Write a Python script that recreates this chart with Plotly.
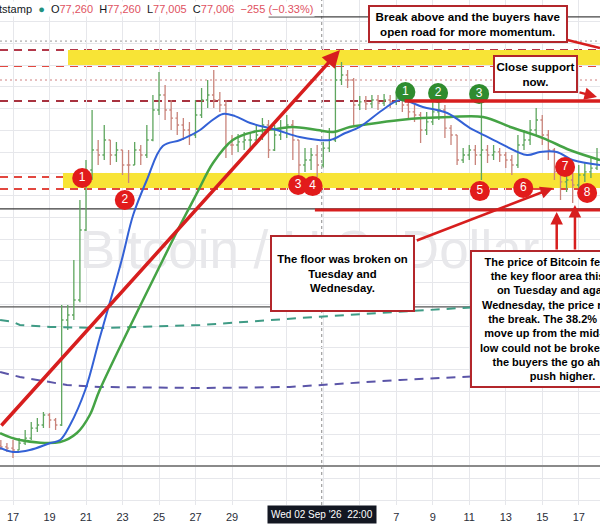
import plotly.graph_objects as go
import pandas as pd

# ---------------- data ----------------
candle_start = "2026-08-16 08:00"   # 8-hour candles
first_open = 65500
close = [65440, 65390, 65300, 65620, 65850, 66310, 66450, 66910, 66680, 66450,
         71280, 71510, 72200, 75420, 78180, 79100, 78870, 79560, 78870, 79100,
         78410, 78410, 79100, 78870, 79560, 80940, 81630, 80940, 80570, 80250,
         80020, 79790, 80710, 81400, 81630, 81400, 81170, 79330, 79330, 79470,
         79560, 79560, 79790, 80250, 79100, 79790, 80110, 80250, 79560, 78410,
         78640, 78870, 78410, 79190, 79560, 82320, 82550, 82320, 81170, 81310,
         81220, 81400, 81260, 81400, 81310, 81490, 81170, 80850, 80710, 80020,
         80390, 80850, 80940, 80110, 79790, 78640, 78870, 79100, 78870, 79100,
         78870, 79010, 78870, 78640, 78410, 79330, 79560, 80020, 80480, 79790,
         79100, 78090, 77630, 77720, 77490, 77950, 78090, 78270, 78640]
high = [65760, 65620, 65760, 65850, 66220, 66590, 66770, 67050, 67000, 66770,
        71970, 71970, 74040, 76800, 78640, 80940, 79560, 80250, 79560, 79470,
        79100, 79100, 79470, 79330, 80250, 81630, 82690, 82090, 81400, 80850,
        80570, 80390, 81400, 81950, 82320, 82780, 81770, 81400, 79790, 79840,
        79930, 79930, 80250, 80570, 80480, 80250, 80480, 80710, 80480, 79560,
        79190, 79190, 79330, 79470, 80110, 83470, 83150, 82780, 82410, 81580,
        81580, 81630, 81630, 81680, 81630, 81770, 81630, 81310, 81170, 80850,
        80850, 81310, 81490, 81170, 80250, 79790, 79190, 79330, 79330, 81400,
        79330, 79330, 79190, 79010, 78870, 79790, 80020, 80480, 81030, 80710,
        80020, 79190, 78180, 78180, 78090, 78410, 78550, 78730, 79190]
low = [65300, 65210, 64930, 65300, 65530, 65760, 66130, 66310, 66310, 66220,
       66400, 70820, 71280, 72100, 74960, 77720, 78410, 78640, 78410, 78550,
       77950, 77580, 78410, 78410, 78730, 79500, 80710, 80480, 80020, 79790,
       79560, 79330, 79650, 80570, 81030, 81030, 80850, 78730, 78870, 79010,
       79100, 79190, 79330, 79560, 78730, 79050, 79560, 79650, 78640, 77810,
       78090, 78180, 77860, 78300, 79010, 79470, 82090, 81950, 80250, 80940,
       80940, 81030, 80940, 81120, 81030, 81170, 80850, 80480, 80390, 79420,
       79790, 80250, 80480, 79650, 79330, 78410, 78500, 78640, 78410, 77720,
       78500, 78640, 78550, 78270, 77950, 78270, 79100, 79330, 79790, 79330,
       78640, 77720, 76800, 77170, 76660, 77260, 77630, 77810, 78180]

blue_t = ['2026-08-16 07:00', '2026-08-17 00:00', '2026-08-17 22:00', '2026-08-19 01:00', '2026-08-19 14:00',
          '2026-08-20 03:00', '2026-08-20 23:00', '2026-08-21 18:00', '2026-08-22 23:00', '2026-08-23 14:00',
          '2026-08-24 08:00', '2026-08-25 05:00', '2026-08-26 04:00', '2026-08-27 06:00', '2026-08-27 19:00',
          '2026-08-28 12:00', '2026-08-29 04:00', '2026-08-30 00:00', '2026-08-31 11:00', '2026-09-01 17:00',
          '2026-09-03 09:00', '2026-09-04 05:00', '2026-09-05 00:00', '2026-09-06 06:00', '2026-09-07 05:00',
          '2026-09-08 11:00', '2026-09-09 19:00', '2026-09-11 01:00', '2026-09-11 14:00', '2026-09-12 16:00',
          '2026-09-14 04:00', '2026-09-14 21:00', '2026-09-15 19:00', '2026-09-16 16:00', '2026-09-18 04:00']
blue_v = [65390, 65210, 65300, 65620, 65760, 66450, 68060, 70450, 74040, 76110,
          77720, 79280, 79560, 80020, 80390, 80760, 80660, 80340, 80020, 79700,
          79560, 79880, 80160, 80940, 81400, 81080, 80800, 80110, 79880, 79420,
          78870, 79010, 79010, 78640, 78410]

green_t = ['2026-08-16 07:00', '2026-08-17 09:00', '2026-08-19 14:00', '2026-08-20 12:00', '2026-08-21 05:00',
           '2026-08-21 18:00', '2026-08-25 05:00', '2026-08-26 04:00', '2026-08-27 02:00', '2026-08-27 23:00',
           '2026-08-29 01:00', '2026-08-30 04:00', '2026-08-31 11:00', '2026-09-01 08:00', '2026-09-02 16:00',
           '2026-09-03 13:00', '2026-09-04 11:00', '2026-09-05 13:00', '2026-09-07 05:00', '2026-09-08 11:00',
           '2026-09-09 23:00', '2026-09-11 18:00', '2026-09-13 06:00', '2026-09-15 01:00', '2026-09-16 12:00',
           '2026-09-18 04:00']
green_v = [66080, 65760, 65670, 66080, 66910, 68060, 74040, 75650, 77120, 78500,
           79560, 79930, 80070, 80160, 80020, 79930, 80160, 80300, 80480, 80570,
           80620, 80620, 80160, 79650, 79100, 78640]

teal_t = ['2026-08-16 07:00', '2026-08-17 00:00', '2026-08-17 09:00', '2026-08-19 01:00', '2026-08-21 18:00',
          '2026-08-27 06:00', '2026-09-01 17:00', '2026-09-07 05:00', '2026-09-10 12:00', '2026-09-18 04:00']
teal_v = [71280, 71190, 71050, 70960, 70910, 71050, 71370, 71650, 71830, 72110]

purple_t = ['2026-08-16 07:00', '2026-08-17 09:00', '2026-08-19 23:00', '2026-08-21 18:00', '2026-08-27 06:00',
            '2026-09-01 04:00', '2026-09-07 05:00', '2026-09-10 12:00', '2026-09-18 04:00']
purple_v = [68890, 68660, 68290, 68200, 68150, 68200, 68520, 68660, 68890]

tick_vals = ['2026-08-17', '2026-08-19', '2026-08-21', '2026-08-23', '2026-08-25', '2026-08-27',
             '2026-08-29', '2026-09-01', '2026-09-03', '2026-09-05', '2026-09-07', '2026-09-09',
             '2026-09-11', '2026-09-13', '2026-09-15', '2026-09-17']
# labels under the crosshair tag are hidden in the reference
tick_text = ['17', '19', '21', '23', '25', '27', '29', '', '', '', '7', '9', '11', '13', '15', '17']

# levels
resist_zone = [83010, 83700]
floor_zone = [77350, 78040]
red_marks = [('1', '2026-08-20 19:00', 77810), ('2', '2026-08-23 03:00', 76800),
             ('3', '2026-09-01 15:00', 77490), ('4', '2026-09-02 10:00', 77440),
             ('5', '2026-09-11 14:00', 77210), ('6', '2026-09-13 23:00', 77350),
             ('7', '2026-09-16 06:00', 78320), ('8', '2026-09-17 11:00', 77120)]
green_marks = [('1', '2026-09-07 12:00', 81770), ('2', '2026-09-09 07:00', 81720),
               ('3', '2026-09-11 13:00', 81680)]

X0, X1 = '2026-08-16 06:54', '2026-09-18 03:56'
RED = '#d71e1e'
FONT = 'Liberation Sans, Arial, sans-serif'

times = pd.date_range(candle_start, periods=len(close), freq='8h')
opens = [first_open] + close[:-1]

fig = go.Figure()
fig.add_trace(go.Scatter(x=['2026-09-02 06:00'], y=[74270], mode='text',
                         text=['Bitcoin / U.S. Dollar'],
                         textfont=dict(size=53, color='#e8e8eb', family=FONT),
                         hoverinfo='skip'))
fig.add_trace(go.Scatter(x=teal_t, y=teal_v, mode='lines',
                         line=dict(color='#3f9b85', width=2, dash='9px,7px')))
fig.add_trace(go.Scatter(x=purple_t, y=purple_v, mode='lines',
                         line=dict(color='#5b55a8', width=2, dash='9px,7px')))
fig.add_trace(go.Ohlc(x=times, open=opens, high=high, low=low, close=close,
                      increasing=dict(line=dict(color='#5fa65f', width=1.3)),
                      decreasing=dict(line=dict(color='#c9847b', width=1.3)),
                      tickwidth=0.3))
fig.add_trace(go.Scatter(x=green_t, y=green_v, mode='lines', line=dict(color='#45a345', width=2.5, shape='spline')))
fig.add_trace(go.Scatter(x=blue_t, y=blue_v, mode='lines', line=dict(color='#3361d6', width=2, shape='spline')))

for marks, col in ((red_marks, '#e21b1b'), (green_marks, '#2f8c2f')):
    fig.add_trace(go.Scatter(x=[m[1] for m in marks], y=[m[2] for m in marks],
                             mode='markers+text', text=[m[0] for m in marks],
                             textposition='middle center',
                             textfont=dict(color='white', size=12, family=FONT),
                             marker=dict(size=20, color=col, line=dict(color=col, width=0)),
                             cliponaxis=False))

shapes = []
# yellow zones
shapes.append(dict(type='rect', xref='x', yref='y', x0='2026-08-20 00:20', x1=X1,
                   y0=resist_zone[0], y1=resist_zone[1], fillcolor='#f8e436', line=dict(width=0), layer='between'))
shapes.append(dict(type='rect', xref='x', yref='y', x0='2026-08-19 17:45', x1=X1,
                   y0=floor_zone[0], y1=floor_zone[1], fillcolor='#f8e436', line=dict(width=0), layer='between'))
# dashed / dotted levels
for yv, col, dash in ((83700, '#b2384a', '8px,6px'), (82960, '#e2473f', '8px,6px'),
                      (81350, '#a8323f', '8px,6px'), (77860, '#e2473f', '8px,6px'),
                      (77310, '#e2473f', '8px,6px'), (84110, '#9a9a9a', '2px,3px'),
                      (82320, '#d08080', '2px,3px'), (78020, '#9a9a9a', '2px,3px')):
    shapes.append(dict(type='line', xref='paper', yref='y', x0=0, x1=1, y0=yv, y1=yv,
                       line=dict(color=col, width=2 if dash.startswith('8') else 1, dash=dash), layer='between'))
# black horizontal lines
for yv, col, w, xs in ((76390, '#3a3a3a', 1.3, X0), (71880, '#555555', 1.3, X0),
                       (64560, '#8a8a8a', 2, X0), (85220, '#444444', 1.2, '2026-08-31 00:00')):
    shapes.append(dict(type='line', xref='x', yref='y', x0=xs, x1=X1, y0=yv, y1=yv,
                       line=dict(color=col, width=w), layer='between'))
# crosshair
shapes.append(dict(type='line', xref='x', yref='paper', x0='2026-09-02 22:00', x1='2026-09-02 22:00',
                   y0=0, y1=1, line=dict(color='#8a8a8a', width=1, dash='3px,3px'), layer='between'))
# thick red lines
shapes.append(dict(type='line', xref='x', yref='y', x0='2026-09-07 11:00', x1=X1, y0=81350, y1=81350,
                   line=dict(color=RED, width=3.5), layer='above'))
shapes.append(dict(type='line', xref='x', yref='y', x0='2026-09-02 13:00', x1=X1, y0=76340, y1=76340,
                   line=dict(color=RED, width=3), layer='above'))
shapes.append(dict(type='line', xref='x', yref='y', x0='2026-09-16 09:00', x1=X1, y0=84160, y1=83790,
                   line=dict(color=RED, width=2.5), layer='above'))


def arrow(x, y, ax, ay, width=2.5):
    return dict(x=x, y=y, ax=ax, ay=ay, xref='x', yref='y', axref='x', ayref='y', text='',
                showarrow=True, arrowhead=2, arrowsize=1, arrowwidth=width, arrowcolor=RED)


ann = [
    arrow('2026-09-03 22:00', 83700, X0, 66360, 3.5),
    arrow('2026-09-15 14:00', 77350, '2026-09-08 01:00', 74910),
    arrow('2026-09-15 19:00', 76250, '2026-09-15 19:00', 74450),
    arrow('2026-09-16 19:00', 76570, '2026-09-16 19:00', 74450),
    arrow('2026-09-18 00:00', 81540, '2026-09-16 23:00', 81770),
]


def box(text, x, y, w, h, size):
    return dict(text=text, x=x, y=y, xref='paper', yref='paper', xanchor='center', yanchor='middle',
                showarrow=False, width=w, height=h, align='center', bgcolor='white',
                bordercolor='#b3262b', borderwidth=2, borderpad=0,
                font=dict(family=FONT, size=size, color='black'))


ann += [
    box('<b>Break above and the buyers have<br>open road for more momentum.</b>', 0.78, 0.9525, 196, 34, 11.6),
    box('<b>Close support<br>now.</b>', 0.8925, 0.8535, 81, 34, 11.6),
    box('<b>The floor was broken on<br>Tuesday and<br>Wednesday.</b>', 0.5708, 0.4584, 141, 73, 11.3),
    box('<b>The price of Bitcoin fell below<br>the key floor area this week<br>on Tuesday and again on<br>'
        'Wednesday, the price reversed<br>the break. The 38.2% retrace<br>move up from the mid-August<br>'
        'low could not be broken, giving<br>the buyers the go ahead to<br>push higher.</b>',
        0.9367, 0.3683, 181, 134, 11),
]
# header legend
v = '#e0525f'
header = ('tstamp&nbsp;&nbsp;<span style="color:#22917f">●</span>&nbsp;&nbsp;O<span style="color:%s">77,260</span>'
          '&nbsp;&nbsp;H<span style="color:%s">77,260</span>&nbsp;&nbsp;L<span style="color:%s">77,005</span>'
          '&nbsp;&nbsp;C<span style="color:%s">77,006</span>&nbsp;&nbsp;<span style="color:%s">−255 (−0.33%%)</span>'
          % (v, v, v, v, v))
ann.append(dict(text=header, x=-0.005, y=0.982, xref='paper', yref='paper', xanchor='left', yanchor='middle',
                showarrow=False, bgcolor='white', font=dict(family=FONT, size=11, color='#131722')))
ann.append(dict(text="Wed 02 Sep '26&nbsp;&nbsp;22:00", x='2026-09-02 22:00', y=0, xref='x', yref='paper',
                xanchor='center', yanchor='top', showarrow=False, bgcolor='#131722', borderpad=3,
                font=dict(family=FONT, size=10, color='white')))

fig.update_layout(
    width=600, height=528, margin=dict(l=0, r=0, t=0, b=23),
    showlegend=False, plot_bgcolor='white', paper_bgcolor='white', hovermode=False,
    shapes=shapes, annotations=ann,
    xaxis=dict(type='date', range=[X0, X1], tickvals=tick_vals, ticktext=tick_text,
               showgrid=True, gridcolor='#e6e7eb', zeroline=False, showline=False,
               ticks='outside', ticklen=2, tickcolor='rgba(0,0,0,0)',
               tickfont=dict(family=FONT, size=11, color='#2a2e39'), rangeslider=dict(visible=False)),
    yaxis=dict(range=[62770, 86000], dtick=1000, tick0=0, showticklabels=False, showgrid=True,
               gridcolor='#e6e7eb', zeroline=False, showline=False),
)
fig.write_html('out.html', config={'displayModeBar': False},
               post_script="document.body.style.margin='0px';")
